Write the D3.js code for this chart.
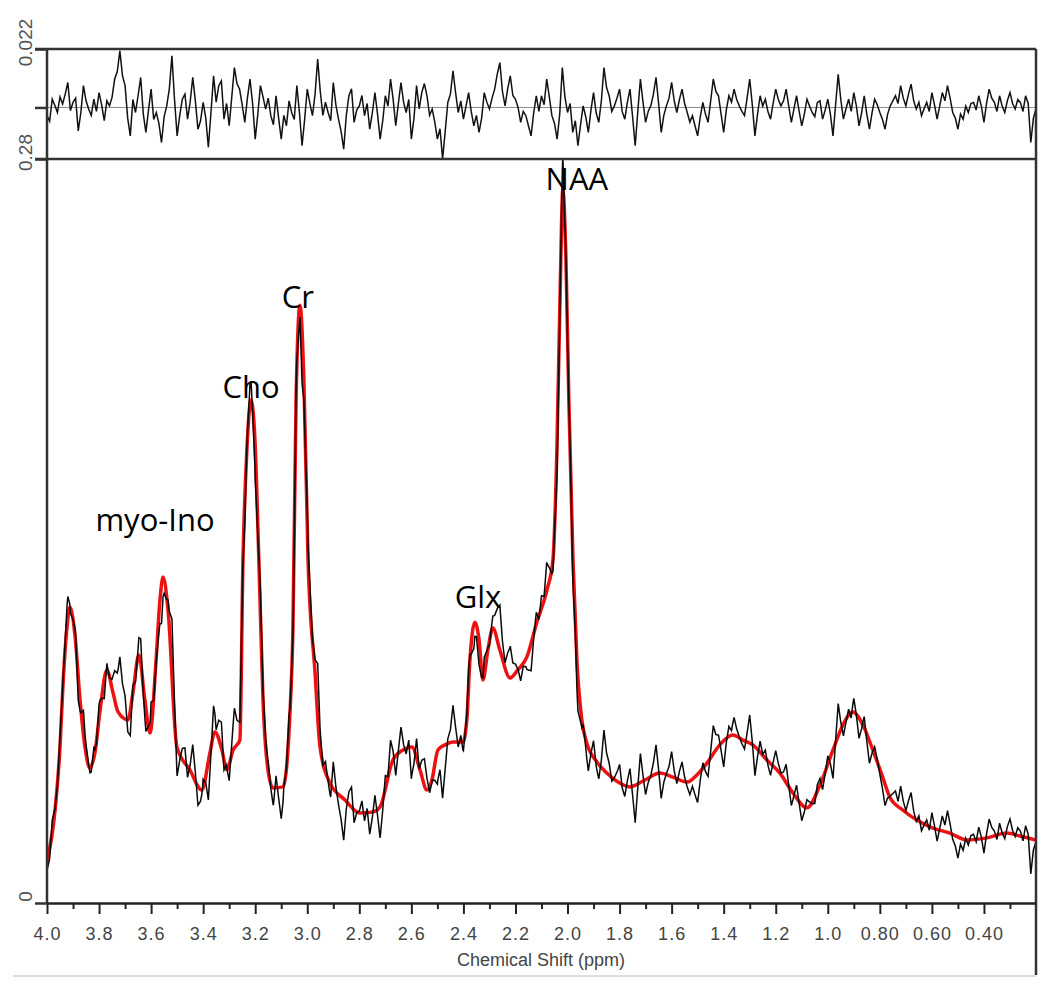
<!DOCTYPE html>
<html>
<head>
<meta charset="utf-8">
<script src="https://cdn.jsdelivr.net/npm/d3@7"></script>
<style>
  body { margin: 0; background: #fff; }
  svg text { font-family: "Liberation Sans", Arial, sans-serif; }
</style>
</head>
<body>
<svg id="chart" width="1050" height="990"></svg>
<script>
// Fitted spectrum (red), chemical shift in ppm and intensity
const fitShift = [4.000, 3.969, 3.950, 3.939, 3.923, 3.912, 3.892, 3.873, 3.854, 3.835,
  3.816, 3.796, 3.770, 3.746, 3.727, 3.689, 3.670, 3.647, 3.624, 3.604,
  3.581, 3.566, 3.554, 3.535, 3.501, 3.451, 3.405, 3.374, 3.355, 3.328,
  3.309, 3.285, 3.259, 3.247, 3.232, 3.216, 3.201, 3.186, 3.170, 3.151,
  3.132, 3.093, 3.066, 3.055, 3.043, 3.028, 3.013, 2.997, 2.970, 2.951,
  2.913, 2.855, 2.798, 2.751, 2.721, 2.671, 2.632, 2.598, 2.567, 2.540,
  2.521, 2.498, 2.471, 2.440, 2.402, 2.387, 2.375, 2.356, 2.340, 2.325,
  2.306, 2.287, 2.260, 2.221, 2.191, 2.156, 2.118, 2.079, 2.056, 2.041,
  2.029, 2.018, 2.006, 1.995, 1.979, 1.964, 1.945, 1.926, 1.887, 1.849,
  1.806, 1.760, 1.703, 1.645, 1.595, 1.541, 1.503, 1.464, 1.415, 1.365,
  1.326, 1.288, 1.234, 1.184, 1.134, 1.080, 1.030, 0.980, 0.942, 0.904,
  0.865, 0.827, 0.792, 0.762, 0.712, 0.658, 0.596, 0.531, 0.466, 0.389,
  0.312, 0.262, 0.200];
const fitIntensity = [0.0154, 0.0350, 0.0587, 0.0813, 0.1039, 0.1114, 0.1001, 0.0764, 0.0587, 0.0508,
  0.0565, 0.0726, 0.0877, 0.0790, 0.0719, 0.0689, 0.0790, 0.0933, 0.0764, 0.0640,
  0.0914, 0.1140, 0.1227, 0.1103, 0.0587, 0.0501, 0.0425, 0.0565, 0.0644, 0.0576,
  0.0501, 0.0576, 0.0613, 0.1291, 0.1705, 0.1893, 0.1742, 0.1291, 0.0764, 0.0501,
  0.0433, 0.0437, 0.0726, 0.1039, 0.1893, 0.2250, 0.1968, 0.1291, 0.0866, 0.0587,
  0.0452, 0.0388, 0.0339, 0.0342, 0.0361, 0.0538, 0.0576, 0.0587, 0.0501, 0.0425,
  0.0463, 0.0576, 0.0595, 0.0606, 0.0606, 0.0689, 0.0914, 0.1057, 0.0990, 0.0839,
  0.0952, 0.1035, 0.0952, 0.0847, 0.0877, 0.0926, 0.1057, 0.1178, 0.1291, 0.1705,
  0.2269, 0.2683, 0.2420, 0.1893, 0.1291, 0.0914, 0.0689, 0.0602, 0.0531, 0.0489,
  0.0455, 0.0437, 0.0463, 0.0489, 0.0474, 0.0455, 0.0482, 0.0527, 0.0595, 0.0632,
  0.0613, 0.0595, 0.0538, 0.0489, 0.0414, 0.0358, 0.0444, 0.0576, 0.0670, 0.0719,
  0.0670, 0.0576, 0.0482, 0.0399, 0.0350, 0.0312, 0.0282, 0.0263, 0.0237, 0.0245,
  0.0263, 0.0252, 0.0237];

// Residual (data - fit), x 1e-3, sampled every 0.01 ppm from 4.00 down to 0.20
const residualStart = 4.0;
const residualStep = 0.01;
const residualMilli = [
  -3.1, -5.2, 3.1, 0.8, -1.9, 4.0, 1.3, 5.0, 9.4, -1.2, 1.9, 3.5, -8.8, -2.0, 8.2, 2.5, -0.6, -3.0, 3.1, -1.5,
  5.6, 1.0, -5.0, 2.5, 0.6, 3.8, 10.7, 13.5, 21.3, 12.0, 8.2, -4.0, -10.7, 3.0, -1.9, 4.5, 11.3, -2.5, -9.4, -1.0,
  6.9, -4.5, -1.9, -6.0, -13.2, -3.5, 0.6, 7.0, 19.4, 3.0, -10.7, -3.0, 3.1, 5.0, -4.4, 2.0, 11.3, 2.5, -8.2, -5.0,
  1.9, -4.0, -15.0, -2.0, 11.9, 2.0, 8.2, 10.0, -4.4, 1.5, -6.9, 4.0, 15.0, 9.0, 6.9, 1.0, -5.6, 3.5, 10.7, 1.5,
  -11.9, -2.5, 8.2, 4.0, -0.6, 3.5, -3.1, -6.5, 4.4, -4.0, -11.9, -3.0, -6.9, 2.5, -1.9, -4.5,
  8.2, -2.0, -14.4, -4.5, 6.9, 1.5, -3.1, 5.0, 18.2, 6.0, -3.0, 2.0, -1.9, -5.0, 9.4, 1.0, -4.4, -9.0, -15.7, -3.0,
  4.4, 7.0, -5.6, -1.0, 0.6, 4.5, -3.1, 1.5, -8.2, -2.0, 5.6, -2.5, -11.9, -5.0, 4.4, 0.5, 10.7, 3.0, -6.9, 1.5,
  9.4, 2.0, -1.9, 3.0, -11.9, -4.0, 8.2, -0.5, 5.6, 9.0, 4.4, -3.0, -0.6, -5.5, -11.9, -8.0, -19.4, -9.0, 1.9, 5.0,
  13.8, 5.5, -1.9, 2.5, -4.4, 0.5, 5.6, -1.5, -6.9, -3.0, -9.4, -4.0, 5.6, 2.0, -0.6, 3.5, 6.9, 12.5, 16.9, 6.0,
  0.6, 7.0, 11.9, 4.5, 3.1, 0.0, -5.6, -1.5, -3.1, -7.0, -10.7, -2.0, 4.4, -1.5,
  4.4, 1.0, 10.7, 4.0, -3.1, -6.0, -11.9, -2.5, 15.0, 4.0, -1.9, 1.5, -9.4, -5.0, -14.4, -6.5, 0.6, -3.5, -9.4, -1.0,
  5.6, -2.0, -5.6, 2.5, 15.0, 7.5, 4.4, -1.5, 0.6, 3.5, 6.9, -1.5, -4.4, 2.0, 6.9, -3.5, -14.4, -1.5, 10.7, 2.0,
  -5.6, -1.5, 0.6, 5.0, 11.3, 1.5, -9.4, -3.0, 0.6, 3.5, 9.4, 2.5, -1.9, 3.0, 6.9, 1.5, -1.9, -5.5, -3.1, -7.0,
  -10.7, -3.5, 1.9, -2.5, -5.6, 2.5, 10.7, 6.0, 4.4, -2.5, -9.4, -1.0, 4.4, 2.0, 6.9, 3.0, 0.6, -1.5, -3.1, 3.5,
  10.7, 1.0, -10.7, -2.5, 4.4, 0.5, 3.1, -1.5, -4.4, 1.5, 6.9, 3.0, 0.6, 2.5,
  6.9, 0.5, -5.6, -0.5, 4.4, -1.5, -6.9, -2.5, 3.1, 0.5, -1.9, -3.5, 1.9, 2.5, -4.4, -1.0, 3.1, -2.5, -10.7, 1.0,
  12.5, 3.0, -4.4, -0.5, 3.1, -1.5, 5.6, 0.5, -6.9, -2.0, 4.4, -2.5, -8.2, -2.0, 3.1, 1.0, -1.9, -4.5, -8.2, -2.5,
  0.6, 2.5, 4.4, 1.5, 8.2, 3.5, 0.6, 5.0, 8.8, 2.5, -0.6, 2.0, -3.1, -0.5, 1.9, -1.5, 5.6, 1.0, -4.4, 0.5,
  5.6, 2.5, 8.2, 3.5, -1.9, -4.0, -8.2, -2.5, -4.4, 0.5, -1.9, 1.5, 1.9, -1.0, 4.4, 0.5, -5.6, 1.5, 6.9, 3.5,
  1.9, -1.5, 4.4, 0.5, -1.9, 2.5, 5.6, 1.5, -0.6, 3.0, 1.9, -1.5, 4.4, 1.5, -13.2, -4.0, -0.6];

// Axis ticks
const majorTicks = [4.0, 3.8, 3.6, 3.4, 3.2, 3.0, 2.8, 2.6, 2.4, 2.2, 2.0, 1.8, 1.6, 1.4, 1.2, 1.0, 0.8, 0.6, 0.4];
const majorLabels = ['4.0', '3.8', '3.6', '3.4', '3.2', '3.0', '2.8', '2.6', '2.4', '2.2', '2.0', '1.8', '1.6', '1.4', '1.2', '1.0', '0.80', '0.60', '0.40'];
const minorTicks = [3.9, 3.7, 3.5, 3.3, 3.1, 2.9, 2.7, 2.5, 2.3, 2.1, 1.9, 1.7, 1.5, 1.3, 1.1, 0.9, 0.7, 0.5, 0.3];

// Metabolite labels: name, ppm at label centre, intensity at baseline
const peakNames = ['myo-Ino', 'Cho', 'Cr', 'Glx', 'NAA'];
const peakShift = [3.585, 3.216, 3.036, 2.344, 1.964];
const peakLevel = [0.140, 0.190, 0.224, 0.1112, 0.2685];

/*------------------------------------------------------*/

const svg = d3.select('#chart');

const left = 47, right = 1036;
const x = d3.scaleLinear().domain([4.0, 0.2]).range([left, right]);
const yMain = d3.scaleLinear().domain([0, 0.28]).range([903, 159]);
const yRes = d3.scaleLinear().domain([-0.0194, 0.022]).range([159, 49]);

// piecewise lookups used to add fit and residual together
const fitAt = d3.scaleLinear().domain(fitShift).range(fitIntensity);
const residual = residualMilli.map((v, i) => ({ s: +(residualStart - i * residualStep).toFixed(2), v: v / 1000 }));
const resAt = d3.scaleLinear().domain(residual.map(d => d.s)).range(residual.map(d => d.v));

// measured data = fit + residual
let measured = residual.map(d => ({ s: d.s, v: fitAt(d.s) + d.v }));
fitShift.forEach((s, i) => measured.push({ s: s, v: fitIntensity[i] + resAt(s) }));
measured.sort((a, b) => b.s - a.s);

// clip paths
const defs = svg.append('defs');
defs.append('clipPath').attr('id', 'clipMain').append('rect')
  .attr('x', left).attr('y', 159).attr('width', right - left).attr('height', 903 - 159);
defs.append('clipPath').attr('id', 'clipRes').append('rect')
  .attr('x', left).attr('y', 49).attr('width', right - left).attr('height', 110);

// residual zero line
svg.append('line')
  .attr('x1', left).attr('x2', right)
  .attr('y1', yRes(0)).attr('y2', yRes(0))
  .attr('stroke', '#8a8a8a').attr('stroke-width', 1);

// residual trace
svg.append('path')
  .datum(residual)
  .attr('clip-path', 'url(#clipRes)')
  .attr('fill', 'none')
  .attr('stroke', '#111')
  .attr('stroke-width', 1.5)
  .attr('d', d3.line().x(d => x(d.s)).y(d => yRes(d.v)));

// fit (red) under the data (black)
svg.append('path')
  .datum(fitShift.map((s, i) => ({ s: s, v: fitIntensity[i] })))
  .attr('clip-path', 'url(#clipMain)')
  .attr('fill', 'none')
  .attr('stroke', '#ee1111')
  .attr('stroke-width', 3.5)
  .attr('stroke-linejoin', 'round')
  .attr('d', d3.line().curve(d3.curveMonotoneX).x(d => x(d.s)).y(d => yMain(d.v)));

svg.append('path')
  .datum(measured)
  .attr('clip-path', 'url(#clipMain)')
  .attr('fill', 'none')
  .attr('stroke', '#0a0a0a')
  .attr('stroke-width', 1.5)
  .attr('d', d3.line().x(d => x(d.s)).y(d => yMain(d.v)));

/*------------------------------------------------------*/

// frame lines
const frame = svg.append('g').attr('stroke', '#333').attr('stroke-width', 2.5);
frame.append('line').attr('x1', 35).attr('x2', right).attr('y1', 49).attr('y2', 49);
frame.append('line').attr('x1', 35).attr('x2', right).attr('y1', 159).attr('y2', 159);
frame.append('line').attr('x1', right).attr('x2', right).attr('y1', 49).attr('y2', 975);
frame.append('line').attr('x1', left).attr('x2', left).attr('y1', 49).attr('y2', 903);

// bottom axis: minor then major ticks
svg.append('g')
  .attr('transform', 'translate(0,903)')
  .call(d3.axisBottom(x).tickValues(minorTicks).tickSize(6).tickSizeOuter(0).tickFormat(''))
  .call(g => g.select('.domain').remove())
  .call(g => g.selectAll('line').attr('stroke', '#222').attr('stroke-width', 2));

svg.append('g')
  .attr('transform', 'translate(0,903)')
  .call(d3.axisBottom(x).tickValues(majorTicks).tickSize(11).tickSizeOuter(0).tickPadding(13)
    .tickFormat((d, i) => majorLabels[i]))
  .call(g => g.select('.domain').attr('stroke', '#222').attr('stroke-width', 2.5))
  .call(g => g.selectAll('line').attr('stroke', '#222').attr('stroke-width', 2))
  .call(g => g.selectAll('text')
    .attr('fill', '#444')
    .style('font-size', '18px')
    .style('letter-spacing', '1px'));

svg.append('text')
  .attr('x', 541).attr('y', 966)
  .attr('text-anchor', 'middle')
  .attr('fill', '#444')
  .style('font-size', '18px')
  .text('Chemical Shift (ppm)');

// left ticks, labels rotated
function rotateLabels(g) {
  g.select('.domain').remove();
  g.selectAll('line').attr('stroke', '#333').attr('stroke-width', 2.5);
  g.selectAll('text')
    .attr('transform', 'rotate(-90)')
    .attr('text-anchor', 'middle')
    .attr('x', 7).attr('y', -15).attr('dy', 0)
    .attr('fill', '#555')
    .style('font-size', '19px');
}

svg.append('g')
  .attr('transform', 'translate(' + left + ',0)')
  .call(d3.axisLeft(yRes).tickValues([0.022, 0]).tickSize(12).tickFormat(d => d ? '0.022' : ''))
  .call(rotateLabels);

svg.append('g')
  .attr('transform', 'translate(' + left + ',0)')
  .call(d3.axisLeft(yMain).tickValues([0, 0.28]).tickSize(12).tickFormat(d => d ? '0.28' : '0'))
  .call(rotateLabels);

// faint bottom rule
svg.append('line')
  .attr('x1', 13).attr('x2', right)
  .attr('y1', 976).attr('y2', 976)
  .attr('stroke', '#ddd').attr('stroke-width', 2);

// metabolite labels
svg.append('g').selectAll('text')
  .data(peakNames)
  .join('text')
  .attr('x', (d, i) => x(peakShift[i]))
  .attr('y', (d, i) => yMain(peakLevel[i]))
  .attr('text-anchor', 'middle')
  .attr('fill', '#000')
  .style('font-family', '"Open Sans", sans-serif')
  .style('font-size', '31px')
  .text(d => d);
</script>
</body>
</html>
